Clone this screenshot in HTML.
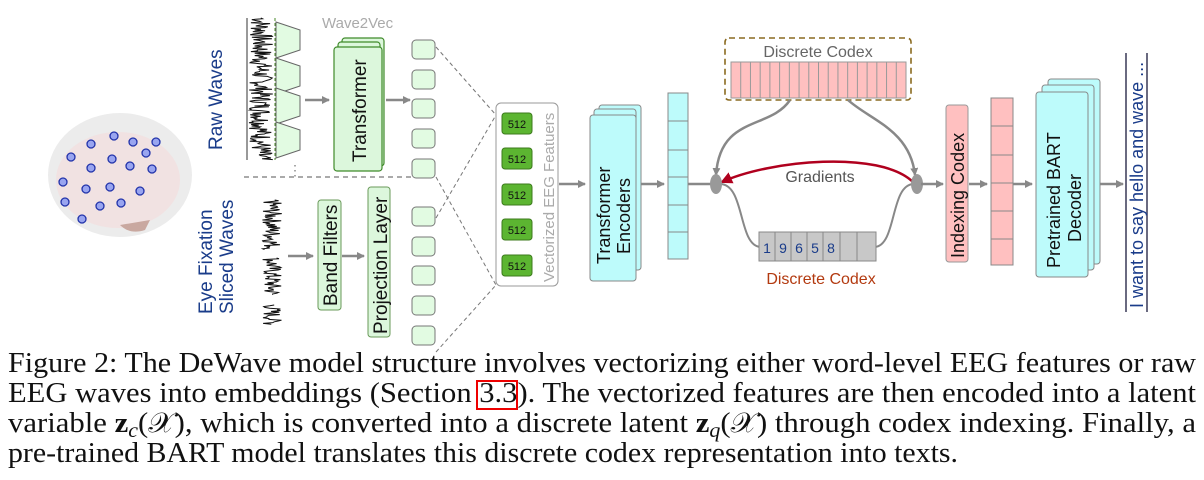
<!DOCTYPE html>
<html><head><meta charset="utf-8"><style>
html,body{margin:0;padding:0;background:#fff;width:1204px;height:480px;overflow:hidden}
svg{display:block}
.s{font-family:"Liberation Sans",sans-serif}
.c{font-family:"Liberation Serif",serif;font-size:28px;fill:#111}
</style></head><body>
<svg width="1204" height="480" viewBox="0 0 1204 480" xmlns="http://www.w3.org/2000/svg">
<defs>
<marker id="ag" markerWidth="8" markerHeight="8" refX="7" refY="4" orient="auto" markerUnits="userSpaceOnUse"><path d="M0,0 L8,4 L0,8z" fill="#888"/></marker>
<marker id="ar" markerWidth="14" markerHeight="12" refX="10" refY="6" orient="auto" markerUnits="userSpaceOnUse"><path d="M0,0 L12,6 L0,12z" fill="#b0001e"/></marker>
</defs>
<!-- brain -->
<ellipse cx="120" cy="175" rx="72" ry="62" fill="#ececec"/>
<ellipse cx="118" cy="180" rx="62" ry="48" fill="#f3e0e0" opacity="0.8"/>
<path d="M120,225 q10,10 25,5 l5,-10z" fill="#c9a8a0"/>
<g fill="#99a5f0" stroke="#2233aa" stroke-width="1.3">
<circle cx="71" cy="157" r="4"/><circle cx="91" cy="144" r="4"/><circle cx="114" cy="136" r="4"/><circle cx="133" cy="142" r="4"/><circle cx="156" cy="142" r="4"/>
<circle cx="112" cy="159" r="4"/><circle cx="91" cy="168" r="4"/><circle cx="130" cy="166" r="4"/><circle cx="146" cy="153" r="4"/><circle cx="152" cy="169" r="4"/>
<circle cx="63" cy="182" r="4"/><circle cx="86" cy="189" r="4"/><circle cx="110" cy="187" r="4"/><circle cx="140" cy="191" r="4"/>
<circle cx="65" cy="202" r="4"/><circle cx="100" cy="206" r="4"/><circle cx="121" cy="203" r="4"/><circle cx="82" cy="219" r="4"/>
</g>
<!-- labels -->
<text class="s" font-size="19" fill="#1a3c8a" transform="translate(222,150) rotate(-90)">Raw Waves</text>
<text class="s" font-size="19" fill="#1a3c8a" transform="translate(212,314) rotate(-90)">Eye Fixation</text>
<text class="s" font-size="19" fill="#1a3c8a" transform="translate(233,314) rotate(-90)">Sliced  Waves</text>
<!-- raw wave -->
<g id="waves" stroke="#111" stroke-width="1" fill="none"></g>
<line x1="247" y1="18" x2="247" y2="160" stroke="#333"/>
<line x1="275" y1="18" x2="275" y2="160" stroke="#4a8a2a" stroke-dasharray="3,2"/>
<g fill="#e2fbe2" stroke="#666" stroke-width="1">
<path d="M276,22 L300,30 L300,50 L276,58z"/><path d="M276,58 L300,66 L300,86 L276,94z"/><path d="M276,88 L300,96 L300,116 L276,124z"/><path d="M276,122 L300,130 L300,150 L276,158z"/>
</g>
<text class="s" font-size="14" fill="#888" x="288" y="175">⋮</text>
<text class="s" font-size="15" fill="#aaa" x="322" y="28">Wave2Vec</text>
<g fill="#dcf7dc" stroke="#3f8a2a" stroke-width="1.2">
<rect x="342" y="38" width="42" height="128" rx="3"/><rect x="338" y="42" width="42" height="128" rx="3"/><rect x="334" y="47" width="48" height="124" rx="3"/>
</g>
<text class="s" font-size="19" fill="#111" transform="translate(366,162) rotate(-90)">Transformer</text>
<line x1="305" y1="100" x2="329" y2="100" stroke="#888" stroke-width="2.5" marker-end="url(#ag)"/>
<line x1="386" y1="100" x2="410" y2="100" stroke="#888" stroke-width="2.5" marker-end="url(#ag)"/>
<line x1="244" y1="177" x2="416" y2="177" stroke="#555" stroke-dasharray="5,4"/>
<line x1="288" y1="256" x2="313" y2="256" stroke="#888" stroke-width="2.5" marker-end="url(#ag)"/>
<line x1="342" y1="256" x2="364" y2="256" stroke="#888" stroke-width="2.5" marker-end="url(#ag)"/>
<rect x="318" y="200" width="23" height="110" rx="3" fill="#dcf7dc" stroke="#6a9a5a"/>
<text class="s" font-size="19" fill="#111" transform="translate(337,306) rotate(-90)">Band Filters</text>
<rect x="368" y="187" width="22" height="150" rx="3" fill="#dcf7dc" stroke="#6a9a5a"/>
<text class="s" font-size="19" fill="#111" transform="translate(387,334) rotate(-90)">Projection Layer</text>
<g fill="#e2fbe2" stroke="#777" stroke-width="1">
<rect x="412" y="40" width="23" height="19" rx="4"/><rect x="412" y="70" width="23" height="19" rx="4"/><rect x="412" y="99" width="23" height="19" rx="4"/><rect x="412" y="129" width="23" height="19" rx="4"/><rect x="412" y="159" width="23" height="19" rx="4"/>
<rect x="412" y="207" width="23" height="19" rx="4"/><rect x="412" y="237" width="23" height="19" rx="4"/><rect x="412" y="266" width="23" height="19" rx="4"/><rect x="412" y="296" width="23" height="19" rx="4"/><rect x="412" y="326" width="23" height="19" rx="4"/>
</g>
<g stroke="#777" stroke-dasharray="4,3" fill="none">
<line x1="436" y1="47" x2="496" y2="115"/><line x1="436" y1="177" x2="496" y2="285"/>
<line x1="436" y1="218" x2="496" y2="115"/><line x1="436" y1="352" x2="496" y2="285"/>
</g>
<rect x="496" y="103" width="62" height="183" rx="5" fill="#fff" stroke="#999"/>
<g fill="#5cb531" stroke="#3c7a1c">
<rect x="502" y="113" width="30" height="21" rx="3"/><rect x="502" y="148" width="30" height="21" rx="3"/><rect x="502" y="184" width="30" height="21" rx="3"/><rect x="502" y="219" width="30" height="21" rx="3"/><rect x="502" y="255" width="30" height="21" rx="3"/>
</g>
<g class="s" font-size="11" fill="#111" text-anchor="middle">
<text x="517" y="128">512</text><text x="517" y="163">512</text><text x="517" y="199">512</text><text x="517" y="234">512</text><text x="517" y="270">512</text>
</g>
<text class="s" font-size="15" fill="#aaa" transform="translate(554,282) rotate(-90)">Vectorized EEG Featuers</text>
<!-- encoder -->
<line x1="559" y1="184" x2="585" y2="184" stroke="#888" stroke-width="2.5" marker-end="url(#ag)"/>
<g fill="#bdfbfb" stroke="#888">
<rect x="599" y="105" width="42" height="165" rx="3"/><rect x="594" y="109" width="42" height="165" rx="3"/><rect x="590" y="115" width="46" height="166" rx="3"/>
</g>
<text class="s" font-size="18" fill="#111" transform="translate(610,264) rotate(-90)">Transformer</text>
<text class="s" font-size="18" fill="#111" transform="translate(630,254) rotate(-90)">Encoders</text>
<line x1="641" y1="184" x2="664" y2="184" stroke="#888" stroke-width="2.5" marker-end="url(#ag)"/>
<g fill="#bdfbfb" stroke="#888">
<rect x="668" y="93" width="20" height="166"/>
<line x1="668" y1="121" x2="688" y2="121"/><line x1="668" y1="150" x2="688" y2="150"/><line x1="668" y1="177" x2="688" y2="177"/><line x1="668" y1="205" x2="688" y2="205"/><line x1="668" y1="232" x2="688" y2="232"/>
</g>
<line x1="688" y1="184" x2="712" y2="184" stroke="#888" stroke-width="2.5"/>
<!-- codex -->
<rect x="725" y="38" width="186" height="62" rx="4" fill="#fff" stroke="#8a6a20" stroke-width="1.6" stroke-dasharray="6,4"/>
<text class="s" font-size="16" fill="#666" x="818" y="57" text-anchor="middle">Discrete Codex</text>
<rect x="731" y="62" width="175" height="36" fill="#ffc0c0" stroke="#999"/>
<g id="pk" stroke="#999"></g>
<path d="M790,100 C770,130 720,115 716,175" stroke="#888" stroke-width="2.5" fill="none" marker-end="url(#ag)"/>
<path d="M848,100 C870,120 910,130 915,175" stroke="#888" stroke-width="2.5" fill="none" marker-end="url(#ag)"/>
<path d="M913,182 C880,150 770,160 722,182" stroke="#b0001e" stroke-width="2.5" fill="none" marker-end="url(#ar)"/>
<text class="s" font-size="16" fill="#555" x="820" y="182" text-anchor="middle">Gradients</text>
<path d="M720,184 C745,184 738,245 760,247" stroke="#888" stroke-width="2" fill="none"/>
<path d="M875,247 C897,245 890,184 914,184" stroke="#888" stroke-width="2" fill="none"/>
<ellipse cx="716" cy="184" rx="6" ry="10" fill="#999"/>
<ellipse cx="917" cy="184" rx="6" ry="10" fill="#999"/>
<rect x="759" y="232" width="117" height="29" fill="#c8c8c8" stroke="#888"/>
<g stroke="#888"><line x1="775" y1="232" x2="775" y2="261"/><line x1="791" y1="232" x2="791" y2="261"/><line x1="807" y1="232" x2="807" y2="261"/><line x1="823" y1="232" x2="823" y2="261"/><line x1="840" y1="232" x2="840" y2="261"/><line x1="857" y1="232" x2="857" y2="261"/></g>
<g class="s" font-size="14" fill="#1a3c8a" text-anchor="middle"><text x="767" y="253">1</text><text x="783" y="253">9</text><text x="799" y="253">6</text><text x="815" y="253">5</text><text x="831" y="253">8</text></g>
<text class="s" font-size="16" fill="#b33a10" x="821" y="284" text-anchor="middle">Discrete Codex</text>
<!-- right -->
<line x1="921" y1="184" x2="943" y2="184" stroke="#888" stroke-width="2.5" marker-end="url(#ag)"/>
<rect x="946" y="105" width="22" height="157" rx="3" fill="#ffc0c0" stroke="#999"/>
<text class="s" font-size="18" fill="#111" transform="translate(964,258) rotate(-90)">Indexing Codex</text>
<line x1="969" y1="184" x2="987" y2="184" stroke="#888" stroke-width="2.5" marker-end="url(#ag)"/>
<g fill="#ffc0c0" stroke="#888">
<rect x="991" y="98" width="22" height="167"/>
<line x1="991" y1="126" x2="1013" y2="126"/><line x1="991" y1="155" x2="1013" y2="155"/><line x1="991" y1="183" x2="1013" y2="183"/><line x1="991" y1="211" x2="1013" y2="211"/><line x1="991" y1="239" x2="1013" y2="239"/>
</g>
<line x1="1013" y1="184" x2="1032" y2="184" stroke="#888" stroke-width="2.5" marker-end="url(#ag)"/>
<g fill="#bdfbfb" stroke="#888">
<rect x="1048" y="79" width="52" height="185" rx="3"/><rect x="1042" y="85" width="52" height="185" rx="3"/><rect x="1036" y="92" width="52" height="185" rx="3"/>
</g>
<text class="s" font-size="18" fill="#111" transform="translate(1060,268) rotate(-90)">Pretrained BART</text>
<text class="s" font-size="18" fill="#111" transform="translate(1081,242) rotate(-90)">Decoder</text>
<line x1="1100" y1="184" x2="1123" y2="184" stroke="#888" stroke-width="2.5" marker-end="url(#ag)"/>
<line x1="1126" y1="53" x2="1126" y2="312" stroke="#6a6a80" stroke-width="2"/>
<line x1="1147" y1="53" x2="1147" y2="312" stroke="#6a6a80" stroke-width="2"/>
<text class="s" font-size="18" fill="#1a3c8a" transform="translate(1143,308) rotate(-90)">I want to say hello and wave ...</text>
<!-- caption -->
<text class="c" x="8" y="372" textLength="1188" lengthAdjust="spacingAndGlyphs">Figure 2: The DeWave model structure involves vectorizing either word-level EEG features or raw</text>
<text class="c" x="8" y="402" textLength="1188" lengthAdjust="spacingAndGlyphs">EEG waves into embeddings (Section 3.3). The vectorized features are then encoded into a latent</text>
<rect x="477" y="381" width="40" height="28" fill="none" stroke="#e00" stroke-width="2"/>
<text class="c" x="8" y="432" textLength="1188" lengthAdjust="spacingAndGlyphs">variable <tspan font-weight="bold">z</tspan><tspan font-style="italic" font-size="20" dy="5">c</tspan><tspan dy="-5">(𝒳), which is converted into a discrete latent </tspan><tspan font-weight="bold">z</tspan><tspan font-style="italic" font-size="20" dy="5">q</tspan><tspan dy="-5">(𝒳) through codex indexing. Finally, a</tspan></text>
<text class="c" x="8" y="462" textLength="950" lengthAdjust="spacingAndGlyphs">pre-trained BART model translates this discrete codex representation into texts.</text>
</svg>
<script>
(function(){
var ns="http://www.w3.org/2000/svg",g=document.getElementById("waves");
var seed=7;function r(){seed=(seed*9301+49297)%233280;return seed/233280;}
function wave(x0,w,y0,y1){var d="";for(var y=y0;y<=y1;y+=0.8){var x=x0+w/2+(r()-0.5)*w;d+=(d?"L":"M")+x.toFixed(1)+","+y.toFixed(1);}var p=document.createElementNS(ns,"path");p.setAttribute("d",d);g.appendChild(p);}
wave(249,24,18,160);
wave(262,20,200,250);wave(262,20,258,295);wave(262,20,305,325);
var pk=document.getElementById("pk");
for(var i=1;i<18;i++){var x=731+i*175/18;var l=document.createElementNS(ns,"line");l.setAttribute("x1",x);l.setAttribute("x2",x);l.setAttribute("y1",62);l.setAttribute("y2",98);pk.appendChild(l);}
})();
</script>
</body></html>
